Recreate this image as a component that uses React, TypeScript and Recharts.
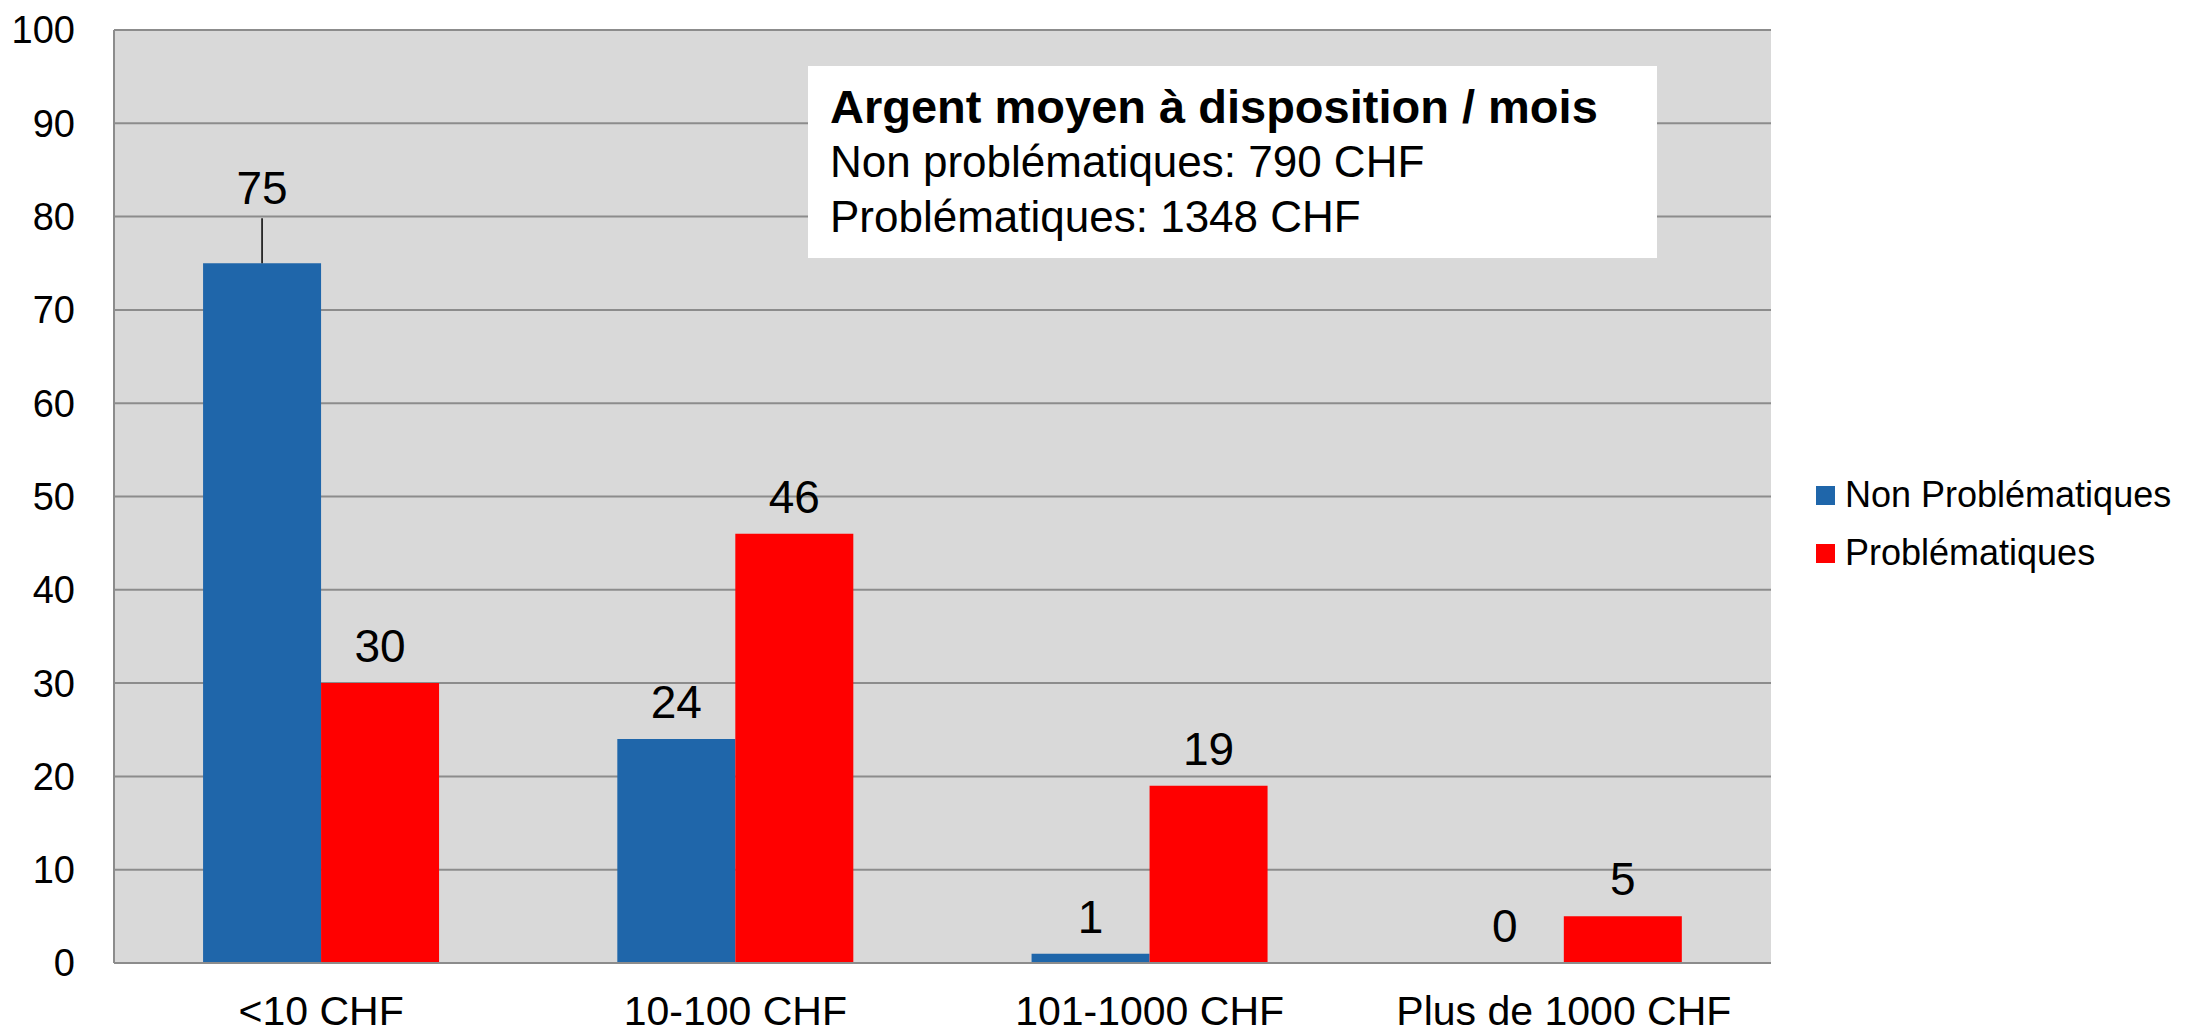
import { BarChart, Bar, XAxis, YAxis, CartesianGrid, LabelList, Legend } from "recharts";

const categories = ["<10 CHF", "10-100 CHF", "101-1000 CHF", "Plus de 1000 CHF"];
const nonProblematiques = [75, 24, 1, 0];
const problematiques = [30, 46, 19, 5];
const yTicks = [0, 10, 20, 30, 40, 50, 60, 70, 80, 90, 100];

const boxTitle = "Argent moyen à disposition / mois";
const boxLines = ["Non problématiques: 790 CHF", "Problématiques: 1348 CHF"];

const FONT = "'Liberation Sans', Arial, sans-serif";
const BLUE = "#1f66aa";
const RED = "#ff0000";

// labels that Excel moved up with a leader line (pixels of extra lift)
const LIFTED: Record<string, number> = { "<10 CHF": 38 };

const data = categories.map((c, i) => ({
  name: c,
  non: nonProblematiques[i],
  prob: problematiques[i],
}));

const series = [
  { key: "non", name: "Non Problématiques", color: BLUE },
  { key: "prob", name: "Problématiques", color: RED },
];

const makeLabel = (lift: Record<string, number>) => (props: any) => {
  const { x, y, width, value, index } = props;
  const cx = Number(x) + Number(width) / 2;
  const extra = lift[categories[index]] || 0;
  const base = Number(y) - 21 - extra;
  return (
    <g>
      {extra > 0 && (
        <line x1={cx} x2={cx} y1={base + 14} y2={Number(y)} stroke="#000" strokeWidth={1.5} />
      )}
      <text x={cx} y={base} textAnchor="middle" fontSize={46} fontFamily={FONT} fill="#000">
        {value}
      </text>
    </g>
  );
};

const LegendBox = () => (
  <div style={{ fontFamily: FONT, fontSize: 36, color: "#000" }}>
    {series.map((s) => (
      <div key={s.key} style={{ display: "flex", alignItems: "center", height: 58 }}>
        <span style={{ display: "inline-block", width: 19, height: 19, background: s.color, marginRight: 10 }} />
        <span>{s.name}</span>
      </div>
    ))}
  </div>
);

export default function App() {
  return (
    <div style={{ position: "absolute", left: 0, top: 0, width: 2190, height: 1034, background: "#fff" }}>
      <BarChart
        width={2190}
        height={1034}
        data={data}
        margin={{ top: 30, right: 49, left: 0, bottom: 0 }}
        barCategoryGap="21.5%"
        barGap={0}
      >
        <CartesianGrid vertical={false} stroke="#8c8c8c" strokeWidth={2} fill="#d9d9d9" fillOpacity={1} />
        <XAxis
          dataKey="name"
          height={71}
          axisLine={{ stroke: "#8c8c8c", strokeWidth: 2 }}
          tickLine={false}
          tickMargin={27}
          tick={{ fontSize: 41, fill: "#000", fontFamily: FONT }}
          interval={0}
        />
        <YAxis
          width={114}
          domain={[0, 100]}
          ticks={yTicks}
          axisLine={{ stroke: "#8c8c8c", strokeWidth: 2 }}
          tickLine={false}
          tickMargin={33}
          tick={{ fontSize: 38, fill: "#000", fontFamily: FONT }}
        />
        <Legend
          layout="vertical"
          align="right"
          verticalAlign="middle"
          content={<LegendBox />}
          wrapperStyle={{ left: 1816, top: 466, width: 370 }}
        />
        {series.map((s) => (
          <Bar
            key={s.key}
            dataKey={s.key}
            name={s.name}
            fill={s.color}
            minPointSize={(v: number) => (v === 0 ? 0.01 : 0)}
            isAnimationActive={false}
          >
            <LabelList dataKey={s.key} content={makeLabel(s.key === "non" ? LIFTED : {})} />
          </Bar>
        ))}
      </BarChart>
      <div
        style={{
          position: "absolute",
          left: 808,
          top: 66,
          width: 849,
          height: 192,
          background: "#fff",
          boxSizing: "border-box",
          paddingTop: 13,
          paddingLeft: 22,
          fontFamily: FONT,
          color: "#000",
        }}
      >
        <div style={{ fontSize: 47, fontWeight: "bold", lineHeight: "55px", whiteSpace: "nowrap" }}>{boxTitle}</div>
        {boxLines.map((l) => (
          <div key={l} style={{ fontSize: 44, lineHeight: "55px", whiteSpace: "nowrap" }}>
            {l}
          </div>
        ))}
      </div>
    </div>
  );
}
